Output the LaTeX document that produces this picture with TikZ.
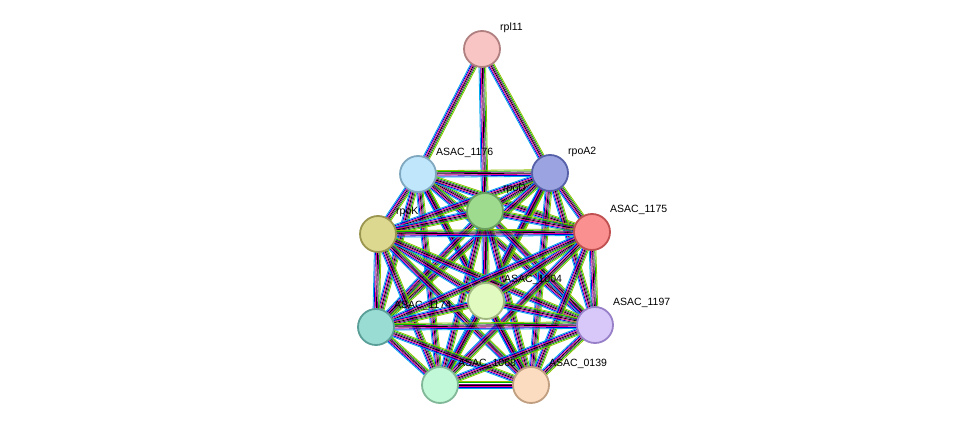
\documentclass[tikz,border=0pt]{standalone}
\usepackage{fontspec}
\setmainfont{Liberation Sans}
\usetikzlibrary{calc}
\begin{document}
\begin{tikzpicture}[x=1pt,y=-1pt,
  prot/.style={circle,draw,line width=1.8pt,minimum size=36pt,inner sep=0pt},
  lab/.style={anchor=west,font=\fontsize{10.5}{12}\selectfont,inner sep=0pt}]
\useasboundingbox (0,0) rectangle (975,431);
\coordinate (a) at (482,49);
\coordinate (b) at (418,174);
\coordinate (c) at (550,173);
\coordinate (d) at (485,211);
\coordinate (e) at (378,234);
\coordinate (f) at (592,232);
\coordinate (g) at (486,301);
\coordinate (h) at (376,327);
\coordinate (i) at (595,325);
\coordinate (j) at (440,385);
\coordinate (k) at (531,385);
\def\cols{{"cyan","blue!85!black","magenta","black","violet","green!70!black","lime!75!black"}}
\foreach \u/\v in {a/b,a/c,a/d,b/c,b/d,b/e,b/f,b/g,b/h,b/i,b/j,b/k,c/d,c/e,c/f,c/g,c/h,c/i,c/j,c/k,d/e,d/f,d/g,d/h,d/i,d/j,d/k,e/f,e/g,e/h,e/i,e/j,e/k,f/g,f/h,f/i,f/j,f/k,g/h,g/i,g/j,g/k,h/i,h/j,h/k,i/j,i/k,j/k}{
  \foreach \n in {0,...,6}{
    \pgfmathsetmacro{\off}{(\n-3)*1.1}
    \pgfmathparse{\cols[\n]}\edef\cc{\pgfmathresult}
    \draw[\cc,line width=0.8pt] ($(\u)!\off pt!90:(\v)$) -- ($(\v)!\off pt!-90:(\u)$);
  }
}
\node[prot,fill={rgb,255:red,249;green,196;blue,196},draw={rgb,255:red,176;green,128;blue,128}] (na) at (a) {};
\node[prot,fill={rgb,255:red,191;green,230;blue,250},draw={rgb,255:red,127;green,168;blue,192}] (nb) at (b) {};
\node[prot,fill={rgb,255:red,155;green,163;blue,224},draw={rgb,255:red,85;green,96;blue,168}] (nc) at (c) {};
\node[prot,fill={rgb,255:red,159;green,219;blue,143},draw={rgb,255:red,106;green,160;blue,96}] (nd) at (d) {};
\node[prot,fill={rgb,255:red,220;green,216;blue,144},draw={rgb,255:red,154;green,150;blue,80}] (ne) at (e) {};
\node[prot,fill={rgb,255:red,250;green,144;blue,144},draw={rgb,255:red,192;green,80;blue,80}] (nf) at (f) {};
\node[prot,fill={rgb,255:red,224;green,250;blue,192},draw={rgb,255:red,160;green,184;blue,128}] (ng) at (g) {};
\node[prot,fill={rgb,255:red,152;green,220;blue,212},draw={rgb,255:red,90;green,158;blue,152}] (nh) at (h) {};
\node[prot,fill={rgb,255:red,216;green,200;blue,250},draw={rgb,255:red,152;green,128;blue,200}] (ni) at (i) {};
\node[prot,fill={rgb,255:red,192;green,248;blue,216},draw={rgb,255:red,128;green,184;blue,152}] (nj) at (j) {};
\node[prot,fill={rgb,255:red,252;green,220;blue,192},draw={rgb,255:red,192;green,158;blue,128}] (nk) at (k) {};
\node[lab] at ($(a)+(18,-21)$) {rpl11};
\node[lab] at ($(b)+(18,-21)$) {ASAC\_1176};
\node[lab] at ($(c)+(18,-21)$) {rpoA2};
\node[lab] at ($(d)+(18,-22)$) {rpoD};
\node[lab] at ($(e)+(18,-22)$) {rpoK};
\node[lab] at ($(f)+(18,-22)$) {ASAC\_1175};
\node[lab] at ($(g)+(18,-21)$) {ASAC\_1004};
\node[lab] at ($(h)+(18,-21)$) {ASAC\_1174};
\node[lab] at ($(i)+(18,-22)$) {ASAC\_1197};
\node[lab] at ($(j)+(18,-21)$) {ASAC\_1068};
\node[lab] at ($(k)+(18,-21)$) {ASAC\_0139};
\end{tikzpicture}
\end{document}
